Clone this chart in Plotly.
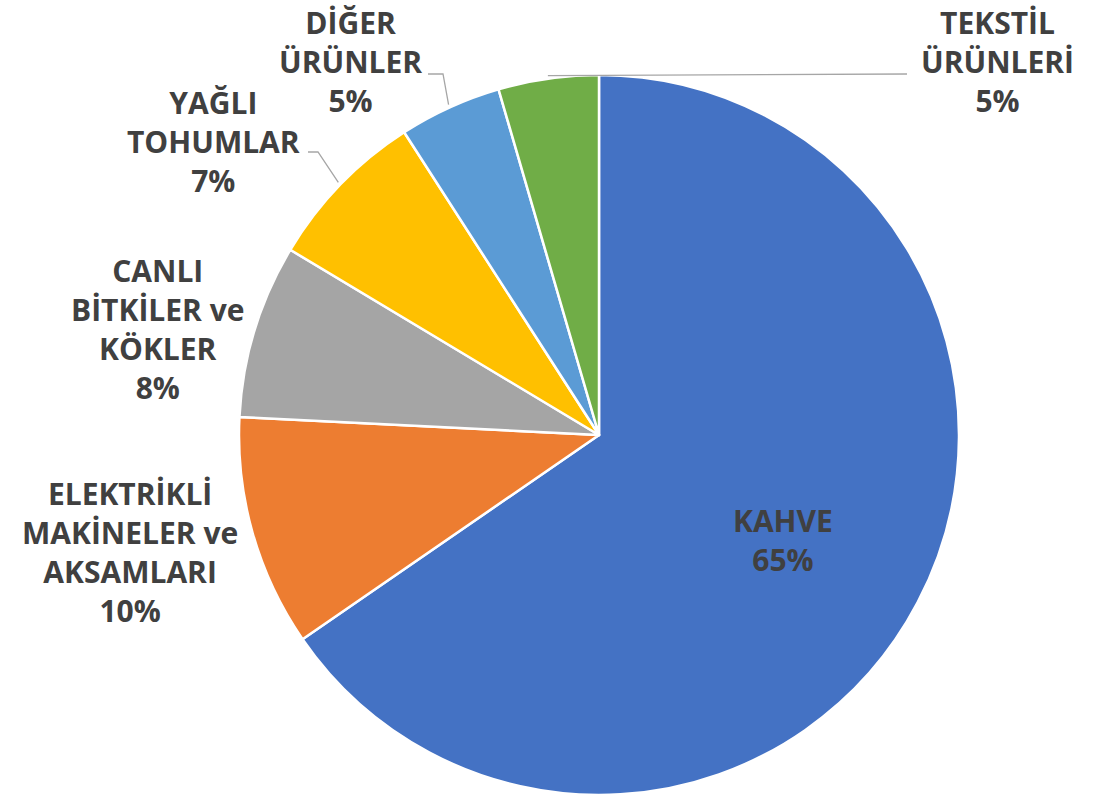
import math
import plotly.graph_objects as go

# ---- data ----
categories = ["KAHVE", "ELEKTRİKLİ<br>MAKİNELER ve<br>AKSAMLARI", "CANLI<br>BİTKİLER ve<br>KÖKLER",
              "YAĞLI<br>TOHUMLAR", "DİĞER<br>ÜRÜNLER", "TEKSTİL<br>ÜRÜNLERİ"]
values = [65.4, 10.4, 7.8, 7.3, 4.6, 4.5]
pct_labels = ["65%", "10%", "8%", "7%", "5%", "5%"]
colors = ["#4472C4", "#ED7D31", "#A5A5A5", "#FFC000", "#5B9BD5", "#70AD47"]

# ---- layout constants (pixels) ----
W, H = 1099, 796
CX, CY, R = 599, 435, 360


def px(x):
    return x / W


def py(y):
    return 1 - y / H


# label anchor positions (pixel centres) and leader-line label-side points
label_pos = [(783, 540), (130, 552), (157, 329), (213, 142), (350, 62), (997, 62)]
leader_start = {3: [(308, 152), (318, 152)], 4: [(428, 74), (443, 74)], 5: [(907, 74)]}

fig = go.Figure(go.Pie(
    labels=[c.replace("<br>", " ") for c in categories],
    values=values,
    sort=False,
    direction="clockwise",
    rotation=0,
    marker=dict(colors=colors, line=dict(color="white", width=2.5)),
    textinfo="none",
    hoverinfo="label+percent",
    showlegend=False,
    domain=dict(x=[px(CX - R), px(CX + R)], y=[py(CY + R), py(CY - R)]),
))

total = sum(values)
cum = 0.0
shapes = []
annotations = []
for i, v in enumerate(values):
    mid = (cum + v / 2) / total * 2 * math.pi
    cum += v
    x, y = label_pos[i]
    annotations.append(dict(
        x=px(x), y=py(y), xref="paper", yref="paper",
        text=f"{categories[i]}<br>{pct_labels[i]}",
        showarrow=False, align="center", xanchor="center", yanchor="middle",
        font=dict(family="Open Sans", size=30, color="#404040", weight=700),
    ))
    if i in leader_start:
        rr = R + 3
        ex = CX + rr * math.sin(mid)
        ey = CY - rr * math.cos(mid)
        pts = leader_start[i] + [(ex, ey)]
        path = "M " + " L ".join(f"{px(a)},{py(b)}" for a, b in pts)
        shapes.append(dict(type="path", path=path, xref="paper", yref="paper",
                           line=dict(color="#A6A6A6", width=1.3)))

fig.update_layout(
    width=W, height=H,
    margin=dict(l=0, r=0, t=0, b=0),
    paper_bgcolor="white", plot_bgcolor="white",
    annotations=annotations, shapes=shapes,
)

fig.write_html("out.html")
